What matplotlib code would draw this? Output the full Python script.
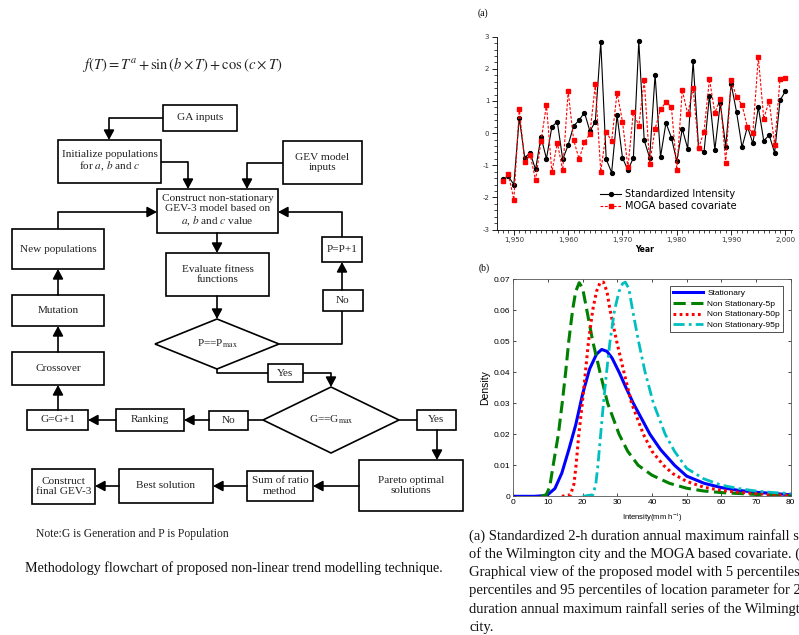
import numpy as np
import matplotlib.pyplot as plt
from matplotlib.patches import Rectangle, Polygon
from matplotlib.ticker import MultipleLocator, FuncFormatter

plt.rcParams['axes.unicode_minus'] = False
plt.rcParams['mathtext.fontset'] = 'stix'

# (a) standardized intensity and MOGA covariate, 1948-2000
years = list(range(1948, 2001))
std_intensity = [-1.44, -1.35, -1.6, 0.48, -0.76, -0.62, -1.13, -0.11, -0.8, 0.2,
                 0.35, -0.82, -0.37, 0.22, 0.4, 0.64, 0.06, 0.36, 2.83, -0.81,
                 -1.23, 0.56, -0.77, -1.15, -0.77, 2.86, -0.23, -0.77, 1.82, -0.74,
                 0.32, -0.14, -0.88, 0.13, -0.48, 2.24, -0.45, -0.6, 1.17, -0.52,
                 0.93, -0.42, 1.53, 0.65, -0.44, 0.2, -0.32, 0.81, -0.24, -0.06,
                 -0.61, 1.02, 1.31]
moga_cov = [-1.5, -1.28, -2.07, 0.76, -0.9, -0.68, -1.46, -0.25, 0.88, -1.22,
            -0.3, -1.16, 1.3, -0.21, -0.8, -0.29, -0.02, 1.52, -1.2, 0.04,
            -0.25, 1.26, 0.36, -1.07, 0.66, 0.22, 1.65, -0.95, 0.13, 0.74,
            0.96, 0.82, -1.14, 1.34, 0.59, 1.4, -0.47, 0.04, 1.68, 0.63,
            1.06, -0.92, 1.65, 1.12, 0.88, 0.18, 0.01, 2.37, 0.45, 1.0,
            -0.37, 1.69, 1.71]

# (b) GEV densities
stat_x = [0, 6, 9, 10, 12, 14, 16, 18, 20, 22, 24, 25.5, 27, 28.5, 30.5, 32.5, 34.6,
          37, 39.4, 42.5, 46.5, 50, 55, 60, 65, 70, 75, 80]
stat_y = [0, 0, 0.0002, 0.0006, 0.0025, 0.0075, 0.015, 0.023, 0.033, 0.041, 0.0458,
          0.0473, 0.0467, 0.0445, 0.040, 0.035, 0.030, 0.025, 0.020, 0.015, 0.010,
          0.0065, 0.0042, 0.0028, 0.0019, 0.0013, 0.0009, 0.0005]
p5_x = [8, 9.5, 10.5, 11.5, 13, 14.1, 15.1, 16, 17.1, 18, 19, 20, 21.2, 22.9, 25,
        27.2, 30.5, 33, 36, 40, 45, 50, 55, 60, 65, 70, 80]
p5_y = [0, 0.0005, 0.003, 0.010, 0.020, 0.030, 0.040, 0.050, 0.060, 0.066, 0.0688,
        0.067, 0.060, 0.050, 0.040, 0.030, 0.020, 0.0145, 0.010, 0.0068, 0.0042,
        0.0026, 0.0017, 0.0012, 0.0009, 0.0006, 0.0002]
p50_x = [14, 16.5, 17.5, 18.1, 18.9, 19.9, 20.8, 21.7, 22.9, 24, 25, 26, 27, 27.9,
         29.8, 31.9, 34.1, 37.5, 40, 43.3, 46, 50, 55, 60, 65, 70, 75, 80]
p50_y = [0, 0.0005, 0.004, 0.010, 0.020, 0.030, 0.040, 0.050, 0.060, 0.066, 0.0688,
         0.069, 0.066, 0.060, 0.050, 0.040, 0.030, 0.020, 0.0145, 0.010, 0.0073,
         0.0048, 0.0029, 0.0019, 0.0013, 0.0009, 0.0005, 0.0003]
p95_x = [20, 23, 23.8, 24.4, 25.2, 26, 26.9, 27.9, 29.2, 30.5, 31.5, 32.3, 33.3, 34.4,
         36.1, 38, 40.4, 43.8, 46.5, 50, 55, 60, 65, 70, 75, 80]
p95_y = [0, 0.0005, 0.004, 0.010, 0.020, 0.030, 0.040, 0.050, 0.060, 0.066, 0.0685,
         0.069, 0.067, 0.060, 0.050, 0.040, 0.030, 0.020, 0.0145, 0.009, 0.0056,
         0.0036, 0.0025, 0.0017, 0.0012, 0.0009]

caption_right = ["(a) Standardized 2-h duration annual maximum rainfall series",
                 "of the Wilmington city and the MOGA based covariate. (b)",
                 "Graphical view of the proposed model with 5 percentiles, 50",
                 "percentiles and 95 percentiles of location parameter for 2-h",
                 "duration annual maximum rainfall series of the Wilmington",
                 "city."]

fig = plt.figure(figsize=(7.99, 6.35), dpi=100)

# ---------------- flowchart (pixel coordinates) ----------------
axf = fig.add_axes([0, 0, 1, 1])
axf.set_xlim(0, 799)
axf.set_ylim(635, 0)
axf.axis('off')

SERIF = 'Liberation Serif'
FS = 8.1


def box(x0, y0, x1, y1, text):
    axf.add_patch(Rectangle((x0, y0), x1 - x0, y1 - y0, fill=False, ec='k', lw=1.2))
    axf.text((x0 + x1) / 2, (y0 + y1) / 2, text, ha='center', va='center',
             fontsize=FS, family=SERIF, linespacing=1.15, color='#222222')


def diamond(cx, cy, hw, hh, text):
    axf.add_patch(Polygon([(cx - hw, cy), (cx, cy - hh), (cx + hw, cy), (cx, cy + hh)],
                          closed=True, fill=False, ec='k', lw=1.2))
    axf.text(cx, cy, text, ha='center', va='center', fontsize=FS, family=SERIF,
             color='#222222')


def line(pts):
    xs, ys = zip(*pts)
    axf.plot(xs, ys, color='k', lw=1.2, solid_capstyle='butt')


def arrow(pts):
    if len(pts) > 2:
        line(pts[:-1])
    axf.annotate('', xy=pts[-1], xytext=pts[-2],
                 arrowprops=dict(arrowstyle='-|>,head_length=0.65,head_width=0.35',
                                 mutation_scale=9, lw=1.2, color='k',
                                 shrinkA=0, shrinkB=0))


axf.text(182, 65, r'$f\left(T\right)=T^{a}+\sin\left(b\times T\right)+\cos\left(c\times T\right)$',
         ha='center', va='center', fontsize=10.5, color='#222222')

box(163, 105, 237, 131, 'GA inputs')
box(58, 140, 161, 183, 'Initialize populations\nfor $a$, $b$ and $c$')
box(283, 141, 362, 184, 'GEV model\ninputs')
box(157, 189, 278, 233, 'Construct non-stationary\nGEV-3 model based on\n$a$, $b$ and $c$ value')
box(12, 229, 104, 269, 'New populations')
box(322, 237, 362, 262, 'P=P+1')
box(166, 253, 269, 296, 'Evaluate fitness\nfunctions')
box(323, 290, 363, 311, 'No')
box(12, 295, 104, 326, 'Mutation')
diamond(217, 344, 62, 25, r'P==P$_{\mathrm{max}}$')
box(12, 352, 104, 385, 'Crossover')
box(268, 364, 303, 382, 'Yes')
diamond(331, 420, 68, 33, r'G==G$_{\mathrm{max}}$')
box(27, 410, 88, 430, 'G=G+1')
box(116, 409, 184, 431, 'Ranking')
box(209, 411, 248, 430, 'No')
box(417, 410, 456, 430, 'Yes')
box(359, 460, 463, 511, 'Pareto optimal\nsolutions')
box(247, 471, 313, 501, 'Sum of ratio\nmethod')
box(119, 469, 213, 503, 'Best solution')
box(32, 469, 95, 504, 'Construct\nfinal GEV-3')

arrow([(163, 118), (109, 118), (109, 140)])
arrow([(161, 162), (188, 162), (188, 189)])
arrow([(283, 163), (247, 163), (247, 189)])
arrow([(217, 233), (217, 253)])
arrow([(217, 296), (217, 319)])
line([(279, 344), (342, 344), (342, 311)])
arrow([(342, 290), (342, 262)])
arrow([(342, 237), (342, 212), (278, 212)])
arrow([(58, 229), (58, 212), (157, 212)])
line([(217, 369), (217, 373), (268, 373)])
arrow([(303, 373), (331, 373), (331, 387)])
line([(263, 420), (248, 420)])
arrow([(209, 420), (184, 420)])
arrow([(116, 420), (88, 420)])
arrow([(58, 410), (58, 385)])
arrow([(58, 352), (58, 326)])
arrow([(58, 295), (58, 269)])
line([(399, 420), (417, 420)])
arrow([(437, 430), (437, 460)])
arrow([(359, 486), (313, 486)])
arrow([(247, 486), (213, 486)])
arrow([(119, 486), (95, 486)])

axf.text(36, 534, 'Note:G is Generation and P is Population', ha='left', va='center',
         fontsize=8.4, family=SERIF, color='#222222')
axf.text(25, 568, 'Methodology flowchart of proposed non-linear trend modelling technique.',
         ha='left', va='center', fontsize=10.1, family=SERIF, color='#111111')

# caption runs past the right edge, as in the source page
for i, txt in enumerate(caption_right):
    axf.text(469, 536 + i * 18.2, txt, ha='left', va='center', fontsize=10.5,
             family=SERIF, color='#111111')

axf.text(478, 13, '(a)', ha='left', va='center', fontsize=7, family=SERIF)
axf.text(479, 268, '(b)', ha='left', va='center', fontsize=7, family=SERIF)

# ---------------- (a) time series ----------------
axa = fig.add_axes([497 / 799, 1 - 229.5 / 635, 295 / 799, 192.8 / 635])
axa.plot(years, std_intensity, color='k', lw=0.8, marker='o', ms=2.8,
         label='Standardized Intensity')
axa.plot(years, moga_cov, color='red', lw=0.8, ls='--', dashes=(2.5, 1.5),
         marker='s', ms=3.5, label='MOGA based covariate')
axa.set_xlim(1946.9, 2001.2)
axa.set_ylim(-3, 3)
axa.spines['top'].set_visible(False)
axa.spines['right'].set_visible(False)
for s in ('left', 'bottom'):
    axa.spines[s].set_linewidth(0.6)
axa.xaxis.set_major_locator(MultipleLocator(10))
axa.xaxis.set_minor_locator(MultipleLocator(1))
axa.yaxis.set_major_locator(MultipleLocator(1))
axa.yaxis.set_minor_locator(MultipleLocator(0.2))
axa.xaxis.set_major_formatter(FuncFormatter(lambda v, p: f'{int(v):,}'))
axa.tick_params(which='major', length=3.5, width=0.6, labelsize=5, pad=2,
                labelcolor='#333333')
axa.tick_params(which='minor', length=2, width=0.5)
axa.set_xlabel('Year', fontsize=5.5, fontweight='bold', labelpad=1)
axa.legend(loc='upper left', bbox_to_anchor=(600 / 799, 1 - 189 / 635),
           bbox_transform=fig.transFigure, frameon=False, fontsize=7,
           handlelength=2.2, handletextpad=0.4, labelspacing=0.2, borderpad=0,
           borderaxespad=0)

# ---------------- (b) densities ----------------
axb = fig.add_axes([513.3 / 799, 1 - 496.3 / 635, 277.4 / 799, 217.3 / 635])
axb.plot(stat_x, stat_y, color='blue', lw=2.2, label='Stationary')
axb.plot(p5_x, p5_y, color='#008000', lw=2.2, ls=(0, (4, 1.8)),
         label='Non Stationary-5p')
axb.plot(p50_x, p50_y, color='red', lw=2.2, ls=(0, (0.9, 1.1)),
         label='Non Stationary-50p')
axb.plot(p95_x, p95_y, color='#00bfbf', lw=2.0, ls=(0, (4, 1.5, 1, 1.5)),
         label='Non Stationary-95p')
axb.set_xlim(0, 80)
axb.set_ylim(0, 0.07)
axb.xaxis.set_major_locator(MultipleLocator(10))
axb.yaxis.set_major_locator(MultipleLocator(0.01))
axb.yaxis.set_major_formatter(FuncFormatter(lambda v, p: '0' if v == 0 else f'{v:.2f}'))
for s in axb.spines.values():
    s.set_linewidth(0.6)
    s.set_color('#555555')
axb.tick_params(direction='in', top=True, right=True, length=2.5, width=0.5,
                labelsize=6, pad=2)
for lab in axb.get_xticklabels() + axb.get_yticklabels():
    lab.set_family('Liberation Sans')
axb.set_ylabel('Density', fontsize=7.5, family='Liberation Sans', labelpad=3)
axb.set_xlabel(r'Intensity(mm h$^{-1}$)', fontsize=5.5, family='Liberation Sans',
               labelpad=3)
lg = axb.legend(loc='upper right', bbox_to_anchor=(787 / 799, 1 - 282 / 635),
                bbox_transform=fig.transFigure, handlelength=3.6,
                handletextpad=0.5, labelspacing=0.35, borderpad=0.35,
                fancybox=False, framealpha=1, prop={'family': 'Liberation Sans', 'size': 6})
lg.get_frame().set_edgecolor('#333333')
lg.get_frame().set_linewidth(0.6)

fig.savefig('out.png', dpi=100)
